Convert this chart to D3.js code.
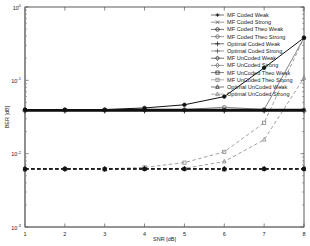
<!DOCTYPE html>
<html><head><meta charset="utf-8">
<script src="https://cdn.jsdelivr.net/npm/d3@7/dist/d3.min.js"></script>
<style>body{margin:0;background:#fff}svg{display:block}text{font-family:"Liberation Sans",Arial,sans-serif}</style>
</head><body><svg id="c" width="310" height="246"></svg>
<script>
const snr = [1,2,3,4,5,6,7,8];
const seriesNames = ["MF Coded Weak","MF Coded Strong","MF Coded Theo Weak","MF Coded Theo Strong","Optimal Coded Weak","Optimal Coded Strong","MF UnCoded Weak","MF UnCoded Strong","MF UnCoded Theo Weak","MF UnCoded Theo Strong","Optimal UnCoded Weak","Optimal UnCoded Strong"];
const mfCodedWeak        = [0.0395,0.0395,0.0395,0.0400,0.0400,0.0400,0.0400,0.0400];
const mfCodedStrong      = [0.0390,0.0390,0.0390,0.0390,0.0390,0.0390,0.0390,0.0390];
const mfCodedTheoWeak    = [0.0400,0.0400,0.0400,0.0420,0.0464,0.0600,0.1480,0.3800];
const mfCodedTheoStrong  = [0.0390,0.0390,0.0390,0.0395,0.0400,0.0430,0.0400,0.3800];
const optCodedWeak       = [0.0385,0.0385,0.0385,0.0385,0.0385,0.0385,0.0385,0.0385];
const optCodedStrong     = [0.0380,0.0380,0.0380,0.0380,0.0380,0.0380,0.0380,0.0380];
const mfUncodedWeak      = [0.0062,0.0062,0.0062,0.0062,0.0062,0.0062,0.0062,0.0062];
const mfUncodedStrong    = [0.0061,0.0061,0.0061,0.0062,0.0062,0.0062,0.0062,0.0062];
const mfUncodedTheoWeak  = [0.0061,0.0062,0.0061,0.0062,0.0062,0.0061,0.0062,0.0062];
const mfUncodedTheoStrong= [0.0062,0.0062,0.0062,0.0065,0.00755,0.0106,0.0264,0.3800];
const optUncodedWeak     = [0.0062,0.0062,0.0062,0.0062,0.0062,0.0062,0.0062,0.0062];
const optUncodedStrong   = [0.0062,0.0062,0.0062,0.0062,0.0063,0.0078,0.0155,0.1080];
const yTicks = [1e-3,1e-2,1e-1,1];
const yTickExp = ["-3","-2","-1","0"];

const values = [mfCodedWeak,mfCodedStrong,mfCodedTheoWeak,mfCodedTheoStrong,optCodedWeak,optCodedStrong,
  mfUncodedWeak,mfUncodedStrong,mfUncodedTheoWeak,mfUncodedTheoStrong,optUncodedWeak,optUncodedStrong];
const markers = ["star","x","circleF","circle","plus","plus","diamondF","diamond","squareF","square","triF","tri"];
const colors = ["#111","#555","#111","#555","#111","#555","#111","#555","#222","#777","#222","#777"];
const dashed = [0,0,0,0,0,0,1,1,1,1,1,1];
const widths = [1.3,1.1,1.0,0.7,1.3,1.1,1.3,1.1,1.1,0.7,1.1,0.7];

const svg = d3.select("#c");
const L=25,R=304,T=7,B=227;
const x = d3.scaleLinear().domain([1,8]).range([L,R]);
const y = d3.scaleLog().domain([1e-3,1]).range([B,T]);

function marker(g,type,cx,cy,col,open){
  const s=1.8;
  const fillF = open?"none":col;
  if(type==="star"){
    g.append("path").attr("d",`M${cx-s},${cy}H${cx+s}M${cx},${cy-s}V${cy+s}M${cx-s*.7},${cy-s*.7}L${cx+s*.7},${cy+s*.7}M${cx-s*.7},${cy+s*.7}L${cx+s*.7},${cy-s*.7}`).attr("stroke",col).attr("stroke-width",0.7).attr("fill","none");
  } else if(type==="x"){
    g.append("path").attr("d",`M${cx-s},${cy-s}L${cx+s},${cy+s}M${cx-s},${cy+s}L${cx+s},${cy-s}`).attr("stroke",col).attr("stroke-width",0.7);
  } else if(type==="plus"){
    g.append("path").attr("d",`M${cx-s-0.6},${cy}H${cx+s+0.6}M${cx},${cy-s-0.6}V${cy+s+0.6}`).attr("stroke",col).attr("stroke-width",0.7);
  } else if(type.startsWith("circle")){
    g.append("circle").attr("cx",cx).attr("cy",cy).attr("r",s).attr("fill",type==="circleF"?fillF:"none").attr("stroke",col).attr("stroke-width",0.7);
  } else if(type.startsWith("diamond")){
    g.append("path").attr("d",`M${cx},${cy-s-0.5}L${cx+s},${cy}L${cx},${cy+s+0.5}L${cx-s},${cy}Z`).attr("fill",type==="diamondF"?fillF:"none").attr("stroke",col).attr("stroke-width",0.7);
  } else if(type.startsWith("square")){
    g.append("rect").attr("x",cx-s+0.2).attr("y",cy-s+0.2).attr("width",2*s-0.4).attr("height",2*s-0.4).attr("fill",type==="squareF"?fillF:"none").attr("stroke",col).attr("stroke-width",0.7);
  } else if(type.startsWith("tri")){
    g.append("path").attr("d",`M${cx},${cy-s-0.4}L${cx+s},${cy+s-0.4}L${cx-s},${cy+s-0.4}Z`).attr("fill",type==="triF"?fillF:"none").attr("stroke",col).attr("stroke-width",0.7);
  }
}

const ax = svg.append("g");
const minors=[];
for(let e=-3;e<0;e++) for(let m=2;m<10;m++) minors.push(m*Math.pow(10,e));
minors.forEach(v=>{
  ax.append("line").attr("x1",L).attr("x2",L+2).attr("y1",y(v)).attr("y2",y(v)).attr("stroke","#777").attr("stroke-width",0.6);
  ax.append("line").attr("x1",R).attr("x2",R-2).attr("y1",y(v)).attr("y2",y(v)).attr("stroke","#777").attr("stroke-width",0.6);
});
yTicks.forEach((v,i)=>{
  ax.append("line").attr("x1",L).attr("x2",L+3.5).attr("y1",y(v)).attr("y2",y(v)).attr("stroke","#555").attr("stroke-width",0.7);
  ax.append("line").attr("x1",R).attr("x2",R-3.5).attr("y1",y(v)).attr("y2",y(v)).attr("stroke","#555").attr("stroke-width",0.7);
  const t=ax.append("text").attr("x",L-4).attr("y",y(v)+2.5).attr("text-anchor","end").attr("font-size",5.5).attr("fill","#222");
  t.append("tspan").text("10");
  t.append("tspan").attr("dy",-2.5).attr("font-size",4).text(yTickExp[i]);
});
snr.forEach(v=>{
  ax.append("line").attr("x1",x(v)).attr("x2",x(v)).attr("y1",B).attr("y2",B-3.5).attr("stroke","#555").attr("stroke-width",0.7);
  ax.append("line").attr("x1",x(v)).attr("x2",x(v)).attr("y1",T).attr("y2",T+3.5).attr("stroke","#555").attr("stroke-width",0.7);
  ax.append("text").attr("x",x(v)).attr("y",B+9).attr("text-anchor","middle").attr("font-size",5.5).attr("fill","#222").text(v);
});
ax.append("rect").attr("x",L).attr("y",T).attr("width",R-L).attr("height",B-T).attr("fill","none").attr("stroke","#333").attr("stroke-width",0.8);
ax.append("line").attr("x1",L).attr("x2",L).attr("y1",T).attr("y2",B).attr("stroke","#888").attr("stroke-width",1.6);
ax.append("line").attr("x1",L).attr("x2",R).attr("y1",B).attr("y2",B).attr("stroke","#777").attr("stroke-width",0.9);

svg.append("text").attr("x",(L+R)/2).attr("y",241).attr("text-anchor","middle").attr("font-size",5.5).attr("fill","#222").text("SNR [dB]");
svg.append("text").attr("transform",`translate(9,${(T+B)/2}) rotate(-90)`).attr("text-anchor","middle").attr("font-size",5.5).attr("fill","#222").text("BER [dB]");

const line = d3.line().x((d,i)=>x(snr[i])).y(d=>y(d));
const order=[9,11,8,10,7,6,3,1,5,4,0,2];
order.forEach(k=>{
  const g=svg.append("g");
  g.append("path").attr("d",line(values[k])).attr("fill","none").attr("stroke",colors[k]).attr("stroke-width",widths[k])
   .attr("stroke-dasharray",dashed[k]?"3.5,2.5":null);
  values[k].forEach((v,i)=>marker(g,markers[k],x(snr[i]),y(v),colors[k],false));
});

const lg=svg.append("g");
seriesNames.forEach((n,i)=>{
  const yy=15+i*7.2;
  lg.append("line").attr("x1",211).attr("x2",224).attr("y1",yy).attr("y2",yy).attr("stroke",colors[i]).attr("stroke-width",0.6);
  marker(lg,markers[i],217.5,yy,colors[i],true);
  lg.append("text").attr("x",227).attr("y",yy+2).attr("font-size",5.6).attr("fill","#222").text(n);
});
</script></body></html>
